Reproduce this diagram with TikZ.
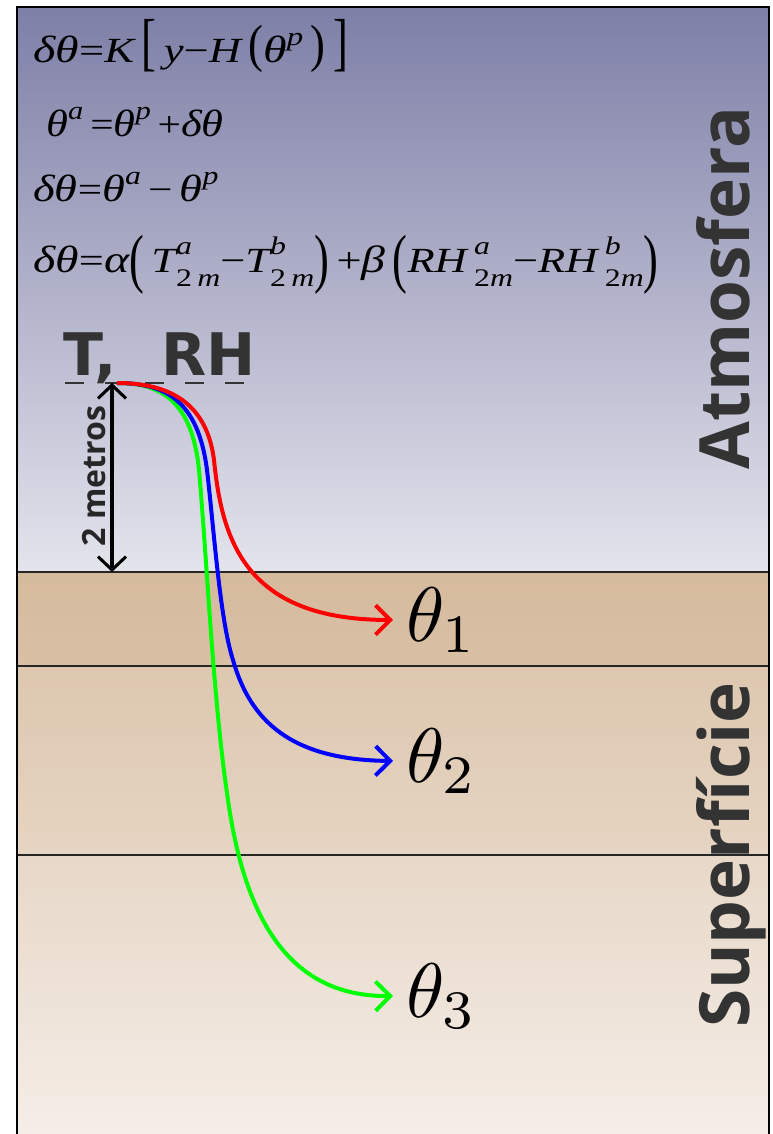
\documentclass[tikz,border=0pt]{standalone}
\usepackage{fontspec}
\usepackage{graphicx}
\usetikzlibrary{arrows.meta}
\newfontfamily\eqf{Liberation Serif}
\newfontfamily\osans{Open Sans}
\newfontfamily\djs{DejaVu Sans}
\definecolor{atmTop}{RGB}{126,127,167}
\definecolor{atmBot}{RGB}{228,228,237}
\definecolor{laTop}{RGB}{213,186,157}
\definecolor{laBot}{RGB}{217,192,165}
\definecolor{lbTop}{RGB}{221,199,175}
\definecolor{lbBot}{RGB}{230,213,195}
\definecolor{lcTop}{RGB}{231,216,200}
\definecolor{lcBot}{RGB}{245,237,231}
\definecolor{txtgray}{RGB}{51,51,51}
\newcommand{\I}[1]{{\itshape #1}}
\newcommand{\G}[1]{{\fontsize{28.5}{30}\selectfont\itshape #1}}
\newcommand{\sps}[1]{\raisebox{0.5em}{\fontsize{19.5}{20}\selectfont\itshape #1}}
\newcommand{\stk}[2]{\makebox[0pt][l]{\raisebox{0.5em}{\fontsize{19}{20}\selectfont\itshape #1}}\raisebox{-0.42em}{\fontsize{19}{20}\selectfont #2}}
\newcommand{\tall}[4]{\raisebox{#4}{\scalebox{#2}[#3]{#1}}}
\newcommand{\bigth}[1]{\scalebox{5.8}{$\theta_{#1}$}}
\begin{document}
\begin{tikzpicture}[x=0.75pt,y=-0.75pt,
  frameline/.style={draw=black,line width=1.6pt},
  sepline/.style={draw=black!85,line width=1.4pt},
  eqn/.style={inner sep=0pt,anchor=base west,font=\eqf\fontsize{26.5}{28}\selectfont},
  sidelabel/.style={rotate=90,anchor=base,inner sep=0pt,text=txtgray,font=\osans\bfseries\fontsize{52}{60}\selectfont},
  thlab/.style={anchor=base west,inner xsep=10pt,inner ysep=0pt},
  curve/.style={line width=3pt,-{Straight Barb[length=11pt,width=22pt]}},
  dimarrow/.style={line width=2.3pt,{Straight Barb[length=10pt,width=21pt]}-{Straight Barb[length=10pt,width=21pt]}}]
\useasboundingbox (0,0) rectangle (773,1134);
\fill[white] (0,0) rectangle (773,1134);
% layers
\shade[top color=atmTop,bottom color=atmBot] (17,7) rectangle (769,572);
\shade[top color=laTop,bottom color=laBot] (17,572) rectangle (769,666);
\shade[top color=lbTop,bottom color=lbBot] (17,666) rectangle (769,855);
\shade[top color=lcTop,bottom color=lcBot] (17,855) rectangle (769,1134);
\draw[sepline] (17,572) -- (769,572);
\draw[sepline] (17,666) -- (769,666);
\draw[sepline] (17,855) -- (769,855);
\draw[frameline] (17,1134) -- (17,7) -- (769,7) -- (769,1134);
% equations
\node[eqn] (eq1) at (33,63) {\resizebox{236pt}{\height}{\G{δθ}=\I{K}\,\tall{[}{1}{1.8}{-0.02em}\,\I{y}−\I{H}\,\tall{(}{1}{1.48}{0.05em}\G{θ}\sps{p}\,\tall{)}{1}{1.48}{0.05em}\,\tall{]}{1}{1.8}{-0.02em}}};
\node[eqn] (eq2) at (46,137) {\resizebox{133pt}{\height}{\G{θ}\sps{a}\,=\G{θ}\sps{p}\,+\G{δθ}}};
\node[eqn] (eq3) at (33,202) {\resizebox{139pt}{\height}{\G{δθ}=\G{θ}\sps{a}\,−\,\G{θ}\sps{p}}};
\node[eqn] (eq4) at (33,272) {\resizebox{469pt}{\height}{\G{δθ}=\G{α}\tall{(}{1}{1.85}{-0.24em}\,\I{T}\stk{a}{2\,\I{m}}−\I{T}\stk{b}{2\,\I{m}}\tall{)}{1}{1.85}{-0.24em}\,+\G{β}\,\tall{(}{1}{1.85}{-0.24em}\I{RH}\,\stk{a}{2\I{m}}−\I{RH}\,\stk{b}{2\I{m}}\tall{)}{1}{1.85}{-0.24em}}};
% T, RH
\node[inner sep=0pt,anchor=base west,text=txtgray,font=\djs\bfseries\fontsize{44}{50}\selectfont] (trh) at (63,375) {T,\hspace{0.75em}RH};
\draw[txtgray,line width=1.9pt,dash pattern=on 14pt off 16pt] (65,383) -- (245,383);
% 2 metros
\coordinate (dtop) at (112,383);
\coordinate (dbot) at (112,572);
\draw[dimarrow] (dtop) -- (dbot);
\node[rotate=90,anchor=base,inner sep=0pt,text=black!85,font=\osans\bfseries\fontsize{24}{28}\selectfont] (dlab) at (105,476) {2 metros};
% side labels
\node[sidelabel] (atm) at (749,288) {Atmosfera};
\node[sidelabel] (sup) at (749,855) {Superfície};
% theta labels
\node[thlab] (th1) at (393,641) {\bigth{1}};
\node[thlab] (th2) at (393,782) {\bigth{2}};
\node[thlab] (th3) at (393,1017) {\bigth{3}};
% curves
\coordinate (s) at (117,383);
\draw[curve,green] (s) .. controls (160,383) and (192,400) .. (199,470) .. controls (207,560) and (213,700) .. (228,800) .. controls (245,920) and (290,997) .. (th3.west);
\draw[curve,blue] (s) .. controls (165,383) and (198,400) .. (207,470) .. controls (214,530) and (220,620) .. (233,660) .. controls (250,720) and (290,760) .. (th2.west);
\draw[curve,red] (s) .. controls (172,383) and (207,405) .. (214,460) .. controls (222,540) and (245,620) .. (th1.west);
\end{tikzpicture}
\end{document}
